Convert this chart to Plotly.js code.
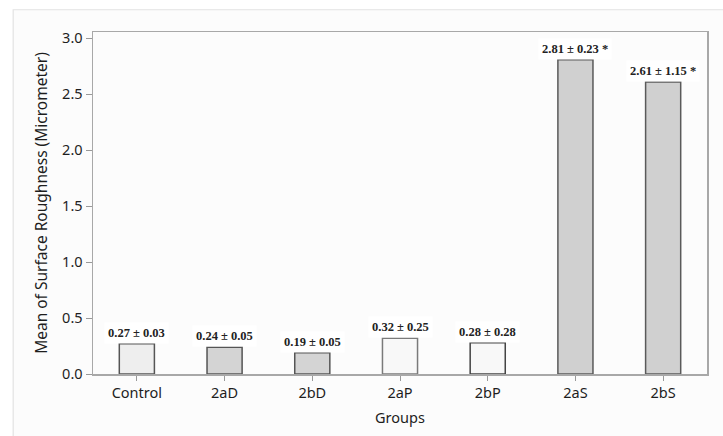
<!DOCTYPE html>
<html>
<head>
<meta charset="utf-8">
<script src="https://cdn.plot.ly/plotly-3.0.1.min.js"></script>
<style>html,body{margin:0;padding:0;background:#fff;}#chart{width:723px;height:436px;}</style>
</head>
<body>
<div id="chart"></div>
<script>
var categories = ['Control', '2aD', '2bD', '2aP', '2bP', '2aS', '2bS'];
var means = [0.27, 0.24, 0.19, 0.32, 0.28, 2.81, 2.61];
var sds = [0.03, 0.05, 0.05, 0.25, 0.28, 0.23, 1.15];
var marks = ['', '', '', '', '', ' *', ' *'];
var yTicks = [0, 0.5, 1.0, 1.5, 2.0, 2.5, 3.0];

var fills = ['#eeeeee', '#d4d4d4', '#d4d4d4', '#f8f8f8', '#f8f8f8', '#d0d0d0', '#d0d0d0'];
var outlines = ['#555555', '#555555', '#555555', '#7a7a7a', '#444444', '#5a5a5a', '#5a5a5a'];
var sansFont = '"Noto Sans", "Open Sans", sans-serif';

var trace = {
  type: 'bar',
  x: categories,
  y: means,
  width: 0.4,
  marker: {color: fills, line: {color: outlines, width: 1.5}},
  hoverinfo: 'x+y'
};

var annotations = categories.map(function (c, i) {
  return {
    x: c, y: means[i], xref: 'x', yref: 'y',
    text: means[i].toFixed(2) + ' \u00b1 ' + sds[i].toFixed(2) + marks[i],
    showarrow: false, yanchor: 'bottom', yshift: 0,
    bgcolor: '#ffffff', borderpad: 3,
    font: {family: '"Liberation Serif", "Times New Roman", serif', size: 12.5, color: '#222', weight: 'bold'}
  };
});

var layout = {
  width: 723, height: 436,
  margin: {l: 93, r: 15.5, t: 32, b: 61.5},
  paper_bgcolor: '#ffffff',
  plot_bgcolor: '#fbfbfb',
  showlegend: false,
  bargap: 0.6,
  xaxis: {
    showline: true, mirror: true, linecolor: '#a8a8a8', linewidth: 1.5,
    ticks: 'outside', ticklen: 5, tickcolor: '#999', tickwidth: 1,
    tickfont: {family: sansFont, size: 14.5, color: '#1e1e1e'},
    title: {text: 'Groups', font: {family: sansFont, size: 14.5, color: '#1e1e1e'}, standoff: 12},
    fixedrange: true
  },
  yaxis: {
    range: [0, 3.057],
    tickvals: yTicks,
    ticktext: yTicks.map(function (v) { return v.toFixed(1); }),
    showgrid: false, zeroline: false,
    showline: true, mirror: true, linecolor: '#a8a8a8', linewidth: 1.5,
    ticks: 'outside', ticklen: 6, tickcolor: '#999', tickwidth: 1,
    tickfont: {family: sansFont, size: 14.5, color: '#1e1e1e'},
    title: {text: 'Mean of Surface Roughness (Micrometer)', font: {family: sansFont, size: 15.5, color: '#1e1e1e'}, standoff: 10},
    fixedrange: true
  },
  annotations: annotations,
  shapes: [{
    type: 'rect', xref: 'paper', yref: 'paper', layer: 'below',
    x0: -0.130, x1: 1.2, y0: -0.3, y1: 1.065,
    line: {color: '#e2e2e2', width: 1.2}, fillcolor: '#fcfcfc'
  }]
};

Plotly.newPlot('chart', [trace], layout, {displayModeBar: false, staticPlot: true});
</script>
</body>
</html>
